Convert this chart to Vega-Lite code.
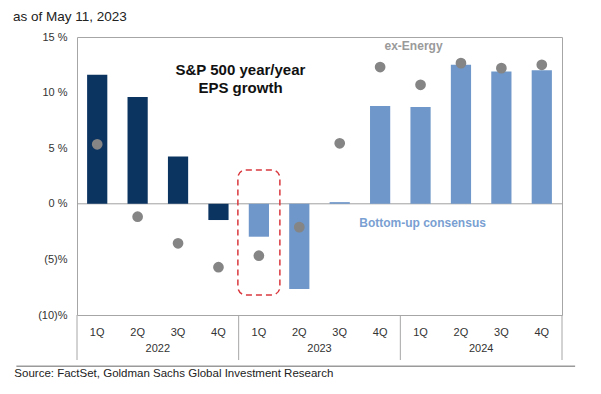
{
  "$schema": "https://vega.github.io/schema/vega-lite/v6.json",
  "width": 485,
  "height": 278,
  "autosize": {"type": "none"},
  "padding": {"left": 77, "top": 37, "right": 39, "bottom": 79},
  "background": "white",
  "config": {"font": "Liberation Sans", "view": {"stroke": "#a6a6a6", "strokeWidth": 1}},
  "title": {"text": "as of May 11, 2023", "anchor": "start", "frame": "group", "dx": -64, "offset": 8, "fontSize": 13.5, "fontWeight": "normal", "color": "#222222"},
  "datasets": {
    "eps": [
      {"q": "1Q22", "year": "2022", "bu": 11.6, "exe": 5.35},
      {"q": "2Q22", "year": "2022", "bu": 9.6, "exe": -1.16},
      {"q": "3Q22", "year": "2022", "bu": 4.25, "exe": -3.55},
      {"q": "4Q22", "year": "2022", "bu": -1.46, "exe": -5.7},
      {"q": "1Q23", "year": "2023", "bu": -2.96, "exe": -4.67},
      {"q": "2Q23", "year": "2023", "bu": -7.66, "exe": -2.1},
      {"q": "3Q23", "year": "2023", "bu": 0.15, "exe": 5.44},
      {"q": "4Q23", "year": "2023", "bu": 8.8, "exe": 12.3},
      {"q": "1Q24", "year": "2024", "bu": 8.7, "exe": 10.7},
      {"q": "2Q24", "year": "2024", "bu": 12.5, "exe": 12.65},
      {"q": "3Q24", "year": "2024", "bu": 11.9, "exe": 12.2},
      {"q": "4Q24", "year": "2024", "bu": 12.0, "exe": 12.5}
    ],
    "years": [
      {"year": "2022", "q": "2Q22"},
      {"year": "2023", "q": "2Q23"},
      {"year": "2024", "q": "2Q24"}
    ],
    "seps": [
      {"q": "1Q22"},
      {"q": "1Q23"},
      {"q": "1Q24"}
    ],
    "one": [{}]
  },
  "data": {"name": "eps"},
  "layer": [
    {
      "data": {"name": "one"},
      "mark": {"type": "rule", "color": "#a0a0a0", "strokeWidth": 1},
      "encoding": {"y": {"datum": 0, "type": "quantitative"}}
    },
    {
      "mark": {"type": "bar"},
      "encoding": {
        "x": {
          "field": "q", "type": "nominal", "sort": null,
          "scale": {"domain": ["1Q22", "2Q22", "3Q22", "4Q22", "1Q23", "2Q23", "3Q23", "4Q23", "1Q24", "2Q24", "3Q24", "4Q24"], "paddingInner": 0.5, "paddingOuter": 0.25},
          "axis": {"title": null, "ticks": false, "domain": false, "labelAngle": 0, "labelExpr": "substring(datum.value, 0, 2)", "labelPadding": 11, "labelFontSize": 11, "labelColor": "#333333"}
        },
        "y": {
          "field": "bu", "type": "quantitative",
          "scale": {"domain": [-10, 15], "nice": false, "zero": false},
          "axis": {"title": null, "values": [-10, -5, 0, 5, 10, 15], "grid": false, "ticks": false, "domain": false, "labelPadding": 10, "labelFontSize": 11, "labelColor": "#333333", "labelExpr": "datum.value < 0 ? '(' + (-datum.value) + ')%' : datum.value + ' %'"}
        },
        "color": {
          "field": "year", "type": "nominal",
          "scale": {"domain": ["2022", "2023", "2024"], "range": ["#0c3461", "#6f97c9", "#6f97c9"]},
          "legend": null
        }
      }
    },
    {
      "mark": {"type": "circle", "size": 115, "color": "#858585", "opacity": 1},
      "encoding": {
        "x": {"field": "q", "type": "nominal", "sort": null},
        "y": {"field": "exe", "type": "quantitative"}
      }
    },
    {
      "data": {"name": "one"},
      "mark": {"type": "bar", "width": 42, "fillOpacity": 0, "stroke": "#d9383e", "strokeWidth": 1.5, "strokeDash": [6, 4], "cornerRadius": 8},
      "encoding": {
        "x": {"datum": "1Q23", "type": "nominal"},
        "y": {"datum": 3.05, "type": "quantitative"},
        "y2": {"datum": -8.2}
      }
    },
    {
      "data": {"name": "one"},
      "mark": {"type": "text", "text": "S&P 500 year/year", "fontWeight": "bold", "fontSize": 15, "color": "#111111", "dx": 22, "baseline": "middle"},
      "encoding": {"x": {"datum": "4Q22", "type": "nominal"}, "y": {"datum": 12.0, "type": "quantitative"}}
    },
    {
      "data": {"name": "one"},
      "mark": {"type": "text", "text": "EPS growth", "fontWeight": "bold", "fontSize": 15, "color": "#111111", "dx": 22, "baseline": "middle"},
      "encoding": {"x": {"datum": "4Q22", "type": "nominal"}, "y": {"datum": 10.4, "type": "quantitative"}}
    },
    {
      "data": {"name": "one"},
      "mark": {"type": "text", "text": "ex-Energy", "fontWeight": "bold", "fontSize": 12, "color": "#9a9a9a", "dx": -7, "baseline": "middle"},
      "encoding": {"x": {"datum": "1Q24", "type": "nominal"}, "y": {"datum": 14.2, "type": "quantitative"}}
    },
    {
      "data": {"name": "one"},
      "mark": {"type": "text", "text": "Bottom-up consensus", "fontWeight": "bold", "fontSize": 12, "color": "#7a9fd2", "dx": 2, "baseline": "middle"},
      "encoding": {"x": {"datum": "1Q24", "type": "nominal"}, "y": {"datum": -1.75, "type": "quantitative"}}
    },
    {
      "data": {"name": "years"},
      "mark": {"type": "text", "fontSize": 11, "color": "#333333", "baseline": "middle"},
      "encoding": {
        "x": {"field": "q", "type": "nominal", "bandPosition": 1.5},
        "y": {"datum": -13.1, "type": "quantitative"},
        "text": {"field": "year"}
      }
    },
    {
      "data": {"name": "seps"},
      "mark": {"type": "rule", "color": "#a6a6a6", "strokeWidth": 1},
      "encoding": {
        "x": {"field": "q", "type": "nominal", "bandPosition": -0.5},
        "y": {"datum": -10, "type": "quantitative"},
        "y2": {"datum": -14.05}
      }
    },
    {
      "data": {"name": "one"},
      "mark": {"type": "rule", "color": "#a6a6a6", "strokeWidth": 1},
      "encoding": {
        "x": {"datum": "4Q24", "type": "nominal", "bandPosition": 1.5},
        "y": {"datum": -10, "type": "quantitative"},
        "y2": {"datum": -14.05}
      }
    },
    {
      "data": {"name": "one"},
      "mark": {"type": "rule", "color": "#9a9a9a", "strokeWidth": 1.5},
      "encoding": {
        "x": {"datum": "1Q22", "type": "nominal", "bandPosition": -3.5},
        "x2": {"datum": "4Q24", "bandPosition": 2.15},
        "y": {"datum": -14.6, "type": "quantitative"}
      }
    },
    {
      "data": {"name": "one"},
      "mark": {"type": "text", "text": "Source: FactSet, Goldman Sachs Global Investment Research", "fontSize": 11.5, "color": "#222222", "align": "left", "baseline": "middle"},
      "encoding": {
        "x": {"datum": "1Q22", "type": "nominal", "bandPosition": -3.6},
        "y": {"datum": -15.35, "type": "quantitative"}
      }
    }
  ]
}
